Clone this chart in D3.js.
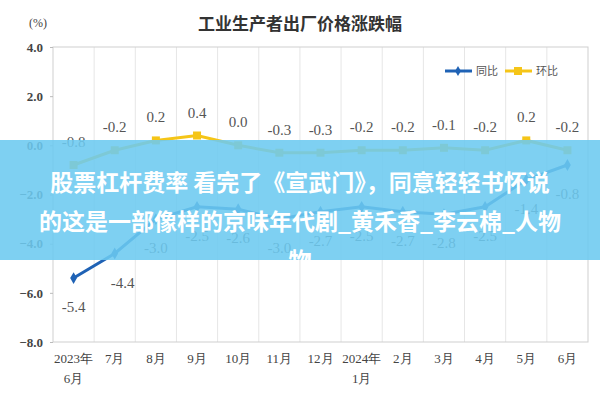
<!DOCTYPE html><html><head><meta charset="utf-8"><script src="https://cdn.jsdelivr.net/npm/d3@7"></script>
<style>body{margin:0;background:#fff}</style></head><body><svg id="c" width="600" height="400"></svg>
<script>
const months=["2023年|6月","7月","8月","9月","10月","11月","12月","2024年|1月","2月","3月","4月","5月","6月"];
const yoy=[-5.4,-4.4,-3.0,-2.5,-2.6,-3.0,-2.7,-2.5,-2.7,-2.8,-2.5,-1.4,-0.8];
const mom=[-0.8,-0.2,0.2,0.4,0.0,-0.3,-0.3,-0.2,-0.2,-0.1,-0.2,0.2,-0.2];
const yTicks=[4,2,0,-2,-4,-6,-8];
const svg=d3.select("#c");
const L=53,R=588,T=47,B=342;
const x=d3.scaleBand().domain(d3.range(months.length)).range([L,R]);
const cx=i=>x(i)+x.bandwidth()/2;
const y=d3.scaleLinear().domain([-8,4]).range([B,T]);
const serif="'Liberation Serif','DejaVu Serif',serif";
svg.append("g").selectAll("line").data(d3.range(1,months.length)).join("line")
 .attr("x1",i=>x(i)).attr("x2",i=>x(i)).attr("y1",T).attr("y2",B).attr("stroke","#e6e6e6");
svg.append("rect").attr("x",L).attr("y",T).attr("width",R-L).attr("height",B-T).attr("fill","none").attr("stroke","#cfcfcf");
const ya=svg.append("g").attr("transform",`translate(${L},0)`).call(d3.axisLeft(y).tickValues(yTicks).tickFormat(d3.format(".1f")).tickSize(3));
ya.select(".domain").remove();ya.selectAll("line").attr("stroke","#bbb");
ya.selectAll("text").attr("font-family",serif).attr("font-size",13).attr("font-weight","bold").attr("fill","#444").attr("dx",-4);
svg.append("g").selectAll("text").data(months).join("text").attr("font-family",serif).attr("font-size",13).attr("fill","#444").attr("text-anchor","middle")
 .each(function(d,i){const p=d.split("|");const t=d3.select(this);p.forEach((s,k)=>t.append("tspan").attr("x",cx(i)).attr("y",363+k*20).text(s));});
svg.append("text").attr("x",300).attr("y",30).attr("text-anchor","middle").attr("font-family","'Noto Sans CJK SC'").attr("font-weight","bold").attr("font-size",17).attr("fill","#333").text("工业生产者出厂价格涨跌幅");
svg.append("text").attr("x",38).attr("y",27).attr("text-anchor","middle").attr("font-family",serif).attr("font-size",12).attr("fill","#444").text("(%)");
const line=d3.line().x((d,i)=>cx(i)).y(d=>y(d));
svg.append("path").datum(mom).attr("d",line).attr("fill","none").attr("stroke","#f5c518").attr("stroke-width",3);
svg.append("g").selectAll("rect").data(mom).join("rect").attr("x",(d,i)=>cx(i)-4).attr("y",d=>y(d)-4).attr("width",8).attr("height",8).attr("fill","#f5c518");
svg.append("path").datum(yoy).attr("d",line).attr("fill","none").attr("stroke","#1f62b5").attr("stroke-width",3);
svg.append("g").selectAll("path").data(yoy).join("path").attr("d",d3.symbol(d3.symbolDiamond,40)).attr("transform",(d,i)=>`translate(${cx(i)},${y(d)})`).attr("fill","#1f62b5");
svg.append("g").selectAll("text").data(mom).join("text").attr("x",(d,i)=>cx(i)).attr("y",d=>y(d)-18).attr("text-anchor","middle").attr("font-family",serif).attr("font-size",15).attr("fill","#555").text(d=>d3.format(".1f")(d).replace("−","-"));
svg.append("g").selectAll("text").data(yoy).join("text").attr("x",(d,i)=>cx(i)+(i==1?8:0)).attr("y",d=>y(d)+34).attr("text-anchor","middle").attr("font-family",serif).attr("font-size",15).attr("fill","#555").text(d=>d3.format(".1f")(d).replace("−","-"));
const lg=svg.append("g").attr("font-family","'Noto Sans CJK SC'").attr("font-size",11).attr("fill","#555");
lg.append("line").attr("x1",445).attr("x2",472).attr("y1",71).attr("y2",71).attr("stroke","#1f62b5").attr("stroke-width",3);
lg.append("path").attr("d",d3.symbol(d3.symbolDiamond,30)).attr("transform","translate(458,71)").attr("fill","#1f62b5");
lg.append("text").attr("x",476).attr("y",75).text("同比");
lg.append("line").attr("x1",505).attr("x2",532).attr("y1",71).attr("y2",71).attr("stroke","#f5c518").attr("stroke-width",3);
lg.append("rect").attr("x",514).attr("y",67).attr("width",8).attr("height",8).attr("fill","#f5c518");
lg.append("text").attr("x",536).attr("y",75).text("环比");
svg.append("rect").attr("x",0).attr("y",140).attr("width",600).attr("height",120).attr("fill","#6ccaf0").attr("opacity",0.88);
const bt=["股票杠杆费率 看完了《宣武门》，同意轻轻书怀说","的这是一部像样的京味年代剧_黄禾香_李云棉_人物","物"];
svg.append("clipPath").attr("id","cl").append("rect").attr("x",0).attr("y",140).attr("width",600).attr("height",120);
svg.append("g").attr("clip-path","url(#cl)").selectAll("text").data(bt).join("text").attr("x",300).attr("y",(d,i)=>191+i*39).attr("text-anchor","middle")
 .attr("font-family","'Noto Sans CJK SC'").attr("font-weight","bold").attr("font-size",23).attr("fill","#fff").text(d=>d);
</script></body></html>
